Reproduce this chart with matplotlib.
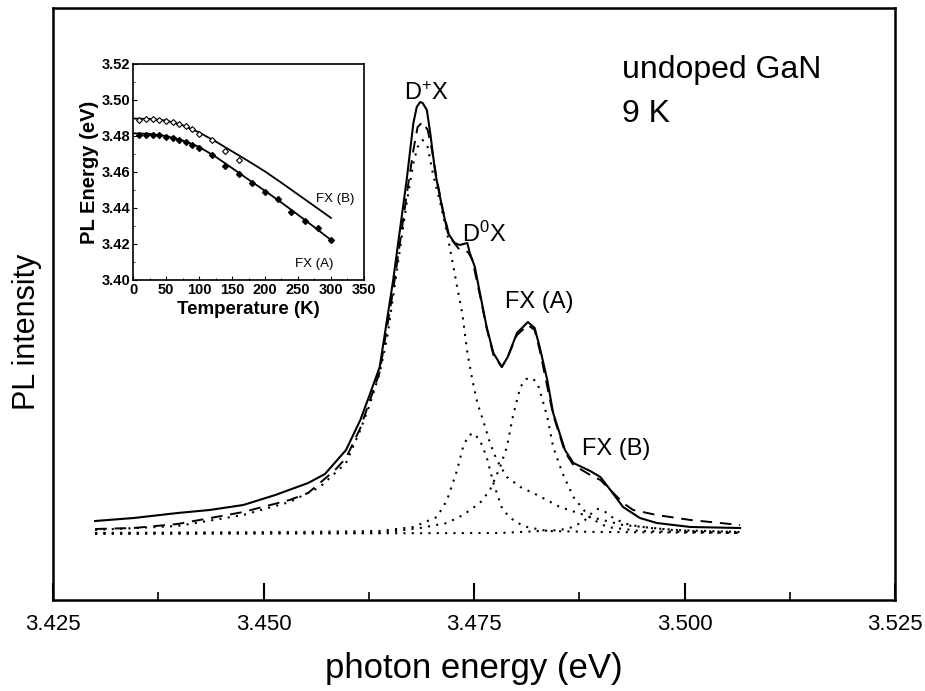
import matplotlib
matplotlib.use('Agg')
import matplotlib.pyplot as plt
from matplotlib.ticker import MultipleLocator

plt.rcParams['font.family'] = ['Liberation Sans', 'DejaVu Sans']
plt.rcParams['mathtext.fontset'] = 'custom'
plt.rcParams['mathtext.rm'] = 'Liberation Sans'
plt.rcParams['mathtext.it'] = 'Liberation Sans'

# measured PL spectrum (solid), photon energy in eV, intensity in a.u.
meas_e = [3.4300, 3.4346, 3.4398, 3.4436, 3.4476, 3.4514, 3.4553, 3.4573, 3.4598,
          3.4615, 3.4626, 3.4638, 3.4654, 3.4662, 3.4670, 3.4678, 3.4682, 3.4686,
          3.4689, 3.4694, 3.4698, 3.4704, 3.4712, 3.4719, 3.4727, 3.4733, 3.4742,
          3.4745, 3.4751, 3.4757, 3.4765, 3.4773, 3.4783, 3.4790, 3.4801, 3.4814,
          3.4822, 3.4828, 3.4837, 3.4844, 3.4858, 3.4868, 3.4888, 3.4900, 3.4912,
          3.4927, 3.4947, 3.4967, 3.5007, 3.5066]
meas_i = [15.8, 16.4, 17.4, 18.0, 19.0, 21.0, 23.4, 25.2, 30.0,
          36.0, 41.0, 46.6, 64.0, 74.0, 84.0, 95.4, 98.6, 99.6,
          99.4, 98.0, 93.4, 85.4, 78.6, 73.4, 71.4, 71.0, 71.4,
          69.4, 66.6, 61.4, 54.6, 49.4, 46.6, 48.6, 53.4, 55.6,
          54.4, 50.6, 44.0, 37.4, 30.0, 27.4, 25.8, 24.6, 22.0,
          18.6, 16.4, 15.4, 14.6, 14.4]

# total fit (dashed)
fit_e = [3.4300, 3.4346, 3.4398, 3.4476, 3.4531, 3.4553, 3.4585, 3.4598, 3.4615,
         3.4638, 3.4654, 3.4662, 3.4670, 3.4678, 3.4683, 3.4689, 3.4695, 3.4700,
         3.4706, 3.4713, 3.4721, 3.4733, 3.4743, 3.4748, 3.4757, 3.4765, 3.4773,
         3.4783, 3.4790, 3.4801, 3.4814, 3.4822, 3.4828, 3.4844, 3.4858, 3.4868,
         3.4888, 3.4900, 3.4912, 3.4927, 3.4939, 3.4967, 3.5007, 3.5066]
fit_i = [14.2, 14.4, 15.2, 17.6, 20.0, 21.4, 26.0, 28.4, 34.4,
         45.6, 62.0, 71.4, 81.0, 90.0, 94.6, 95.6, 94.0, 90.0,
         84.0, 78.0, 72.6, 70.0, 69.6, 68.0, 61.0, 54.4, 49.0,
         46.6, 48.6, 53.0, 55.0, 54.0, 50.0, 37.0, 29.6, 27.0,
         25.0, 24.0, 22.0, 19.4, 18.0, 17.0, 16.0, 15.0]

# fitted components (dotted)
dpx_e = [3.4300, 3.4398, 3.4476, 3.4531, 3.4567, 3.4598, 3.4615, 3.4626, 3.4638,
         3.4647, 3.4659, 3.4670, 3.4678, 3.4683, 3.4689, 3.4695, 3.4701, 3.4710,
         3.4718, 3.4724, 3.4730, 3.4736, 3.4742, 3.4748, 3.4754, 3.4761, 3.4769,
         3.4777, 3.4789, 3.4805, 3.4825, 3.4852, 3.4888, 3.4927, 3.4986, 3.5066]
dpx_i = [14.0, 14.8, 17.0, 19.6, 22.6, 27.4, 34.0, 39.0, 45.4,
         52.6, 66.6, 79.4, 87.4, 90.6, 92.0, 90.6, 85.4, 79.4,
         73.4, 68.0, 62.6, 57.4, 49.6, 44.0, 39.4, 35.8, 31.4,
         28.0, 24.6, 22.6, 21.0, 18.6, 16.6, 15.0, 14.0, 13.6]

d0x_e = [3.4300, 3.4543, 3.4638, 3.4678, 3.4706, 3.4718, 3.4730, 3.4737, 3.4743,
         3.4749, 3.4757, 3.4765, 3.4773, 3.4784, 3.4799, 3.4813, 3.4837, 3.4900, 3.5066]
d0x_i = [13.4, 13.6, 13.8, 14.6, 16.6, 20.0, 26.0, 30.6, 32.8,
         33.4, 32.0, 28.6, 23.4, 18.0, 15.6, 14.6, 13.8, 13.6, 13.4]

fxa_e = [3.4300, 3.4638, 3.4686, 3.4718, 3.4737, 3.4757, 3.4769, 3.4781, 3.4789,
         3.4796, 3.4805, 3.4812, 3.4819, 3.4825, 3.4828, 3.4837, 3.4844, 3.4855,
         3.4868, 3.4888, 3.4908, 3.4947, 3.5066]
fxa_i = [13.4, 13.4, 14.4, 15.4, 17.0, 19.4, 22.0, 26.6, 30.6,
         36.6, 42.6, 44.2, 44.4, 43.4, 42.0, 36.6, 30.6, 25.4,
         20.6, 16.4, 14.6, 13.8, 13.4]

fxb_e = [3.4300, 3.4781, 3.4852, 3.4868, 3.4882, 3.4891, 3.4897, 3.4906, 3.4917,
         3.4935, 3.4959, 3.5007, 3.5066]
fxb_i = [13.2, 13.4, 14.0, 14.6, 16.0, 17.6, 18.2, 17.6, 16.2,
         15.0, 14.4, 13.8, 13.6]

# inset: peak energy vs temperature
ta_pts = [9, 20, 30, 40, 50, 60, 70, 80, 90, 100, 120, 140, 160, 180, 200, 220, 240, 260, 280, 300]
ea_pts = [3.4807, 3.4807, 3.4807, 3.4803, 3.4797, 3.4788, 3.4775, 3.4765, 3.4750, 3.4735,
          3.4695, 3.4636, 3.4588, 3.4538, 3.4488, 3.4449, 3.4380, 3.4328, 3.4291, 3.4223]
tb_pts = [9, 20, 30, 40, 50, 60, 70, 80, 90, 100, 120, 140, 160]
eb_pts = [3.4890, 3.4892, 3.4892, 3.4890, 3.4885, 3.4877, 3.4868, 3.4857, 3.4838, 3.4810,
          3.4779, 3.4714, 3.4668]
t_fit = [0, 25, 50, 75, 100, 125, 150, 175, 200, 225, 250, 275, 300]
ea_fit = [3.4815, 3.4812, 3.4800, 3.4775, 3.4740, 3.4685, 3.4622, 3.4558, 3.4495,
          3.4430, 3.4362, 3.4293, 3.4222]
eb_fit = [3.4897, 3.4895, 3.4886, 3.4860, 3.4820, 3.4770, 3.4715, 3.4660, 3.4603,
          3.4540, 3.4475, 3.4410, 3.4345]

fig = plt.figure(figsize=(9.25, 6.91), dpi=100)
ax = fig.add_axes([0.0573, 0.1317, 0.9103, 0.8567])

dots = (0, (1, 3))
ax.plot(meas_e, meas_i, color='black', lw=1.5, ls='-')
ax.plot(fit_e, fit_i, color='black', lw=1.4, ls=(0, (6, 4)))
for e, i in [(dpx_e, dpx_i), (d0x_e, d0x_i), (fxa_e, fxa_i), (fxb_e, fxb_i)]:
    ax.plot(e, i, color='black', lw=1.5, ls=dots)

ax.set_xlim(3.425, 3.525)
ax.set_ylim(0, 118.4)
ax.xaxis.set_major_locator(MultipleLocator(0.025))
ax.xaxis.set_minor_locator(MultipleLocator(0.0125))
ax.xaxis.set_major_formatter(plt.FormatStrFormatter('%.3f'))
ax.set_yticks([])
ax.tick_params(axis='x', which='major', direction='in', length=12, width=1.5,
               labelsize=16, pad=10)
ax.tick_params(axis='x', which='minor', direction='in', length=6, width=1.2)
for s in ax.spines.values():
    s.set_linewidth(1.8)

ax.set_xlabel('photon energy (eV)', fontsize=25, labelpad=12)
fig.text(27 / 925, 1 - 332 / 691, 'PL intensity', fontsize=22, rotation=90,
         ha='center', va='center')

ax.text(3.4694, 100, r'D$^{+}$X', fontsize=17, ha='center', va='baseline')
ax.text(3.4762, 71.6, r'D$^{0}$X', fontsize=17, ha='center', va='baseline')
ax.text(3.4828, 58.4, 'FX (A)', fontsize=17, ha='center', va='baseline')
ax.text(3.4919, 29.0, 'FX (B)', fontsize=17, ha='center', va='baseline')
ax.text(3.4926, 104.4, 'undoped GaN', fontsize=23, ha='left', va='baseline')
ax.text(3.4926, 95.6, '9 K', fontsize=23, ha='left', va='baseline')

# inset
ins = fig.add_axes([0.1438, 0.5948, 0.2497, 0.3126])
ins.plot(t_fit, ea_fit, color='black', lw=1.3)
ins.plot(t_fit, eb_fit, color='black', lw=1.3)
ins.plot(ta_pts, ea_pts, ls='none', marker='D', ms=3, color='black')
ins.plot(tb_pts, eb_pts, ls='none', marker='D', ms=3, mfc='white', mec='black', mew=0.8)
ins.set_xlim(0, 350)
ins.set_ylim(3.40, 3.52)
ins.xaxis.set_major_locator(MultipleLocator(50))
ins.yaxis.set_major_locator(MultipleLocator(0.02))
ins.xaxis.set_minor_locator(MultipleLocator(25))
ins.yaxis.set_minor_locator(MultipleLocator(0.01))
ins.yaxis.set_major_formatter(plt.FormatStrFormatter('%.2f'))
ins.tick_params(which='both', direction='in', labelsize=10.5, pad=2)
ins.tick_params(which='major', length=3)
ins.tick_params(which='minor', length=1.5)
for lab in ins.get_xticklabels() + ins.get_yticklabels():
    lab.set_fontweight('bold')
ins.set_xlabel('Temperature (K)', fontsize=13.5, fontweight='bold', labelpad=3)
ins.set_ylabel('PL Energy (eV)', fontsize=14.5, fontweight='bold', labelpad=2)
ins.text(278, 3.4436, 'FX (B)', fontsize=9.5, ha='left', va='baseline')
ins.text(245, 3.4074, 'FX (A)', fontsize=9.5, ha='left', va='baseline')
for s in ins.spines.values():
    s.set_linewidth(1.2)

fig.savefig('out.png', dpi=100)
